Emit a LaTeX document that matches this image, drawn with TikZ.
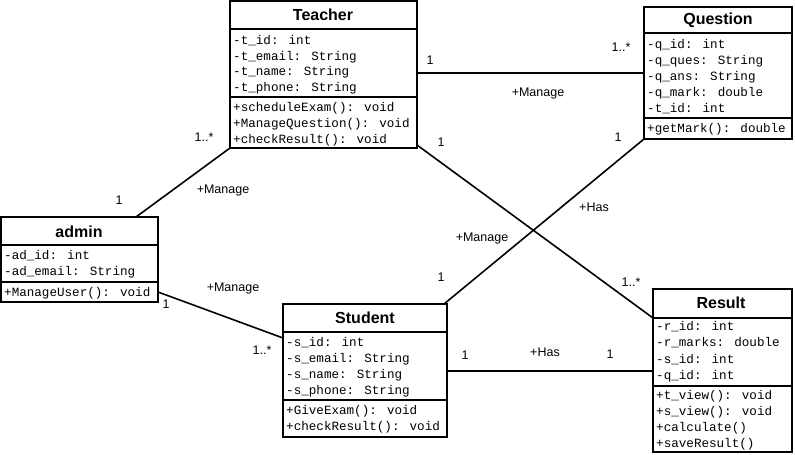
\documentclass[tikz,border=0pt]{standalone}
\usepackage{fontspec}
\setmainfont{Liberation Sans}
\newfontfamily\monof{Liberation Mono}
\begin{document}
\begin{tikzpicture}[x=1pt,y=-1pt,
  classbox/.style={draw,line width=1.6pt,inner sep=0pt,outer sep=0pt,anchor=north west},
  divline/.style={line width=1.6pt},
  ttl/.style={inner sep=0pt,font=\fontsize{16}{18}\selectfont\bfseries},
  mem/.style={inner sep=0pt,anchor=west,font=\monof\fontsize{12.6}{15}\selectfont},
  lbl/.style={inner sep=0pt,font=\fontsize{12.5}{15}\selectfont},
  conn/.style={line width=1.6pt}]
\useasboundingbox (0,0) rectangle (795,455);
% Teacher
\node[classbox,minimum width=187pt,minimum height=147pt] (teacher) at (230,1) {};
\draw[divline] (230,29) -- (417,29);
\draw[divline] (230,97) -- (417,97);
\node[ttl] (tT) at (323,15) {Teacher};
\node[mem] (t1) at (233,41) {-t\_id: int};
\node[mem] (t2) at (233,57) {-t\_email: String};
\node[mem] (t3) at (233,72) {-t\_name: String};
\node[mem] (t4) at (233,88) {-t\_phone: String};
\node[mem] (t5) at (233,108) {+scheduleExam(): void};
\node[mem] (t6) at (233,124) {+ManageQuestion(): void};
\node[mem] (t7) at (233,140) {+checkResult(): void};
% Question
\node[classbox,minimum width=148pt,minimum height=132pt] (question) at (644,7) {};
\draw[divline] (644,33) -- (792,33);
\draw[divline] (644,118) -- (792,118);
\node[ttl] (qT) at (718,20) {Question};
\node[mem] (q1) at (647,45) {-q\_id: int};
\node[mem] (q2) at (647,61) {-q\_ques: String};
\node[mem] (q3) at (647,77) {-q\_ans: String};
\node[mem] (q4) at (647,93) {-q\_mark: double};
\node[mem] (q5) at (647,109) {-t\_id: int};
\node[mem] (q6) at (647,129) {+getMark(): double};
% admin
\node[classbox,minimum width=157pt,minimum height=85pt] (admin) at (1,217) {};
\draw[divline] (1,245) -- (158,245);
\draw[divline] (1,282) -- (158,282);
\node[ttl] (aT) at (79,232) {admin};
\node[mem] (a1) at (4,256) {-ad\_id: int};
\node[mem] (a2) at (4,272) {-ad\_email: String};
\node[mem] (a3) at (4,293) {+ManageUser(): void};
% Student
\node[classbox,minimum width=164pt,minimum height=133pt] (student) at (283,304) {};
\draw[divline] (283,332) -- (447,332);
\draw[divline] (283,400) -- (447,400);
\node[ttl] (sT) at (365,318) {Student};
\node[mem] (s1) at (286,343) {-s\_id: int};
\node[mem] (s2) at (286,359) {-s\_email: String};
\node[mem] (s3) at (286,375) {-s\_name: String};
\node[mem] (s4) at (286,391) {-s\_phone: String};
\node[mem] (s5) at (286,411) {+GiveExam(): void};
\node[mem] (s6) at (286,427) {+checkResult(): void};
% Result
\node[classbox,minimum width=139pt,minimum height=163pt] (result) at (653,289) {};
\draw[divline] (653,318) -- (792,318);
\draw[divline] (653,386) -- (792,386);
\node[ttl] (rT) at (721,303) {Result};
\node[mem] (r1) at (656,327) {-r\_id: int};
\node[mem] (r2) at (656,343) {-r\_marks: double};
\node[mem] (r3) at (656,360) {-s\_id: int};
\node[mem] (r4) at (656,376) {-q\_id: int};
\node[mem] (r5) at (656,396) {+t\_view(): void};
\node[mem] (r6) at (656,412) {+s\_view(): void};
\node[mem] (r7) at (656,428) {+calculate()};
\node[mem] (r8) at (656,444) {+saveResult()};
% connectors
\draw[conn] ([yshift=-72pt]teacher.north east) -- ([yshift=-72pt]teacher.north east -| question.west);
\draw[conn] ([xshift=135pt]admin.north west) -- (teacher.south west);
\draw[conn] ([yshift=3pt]teacher.south east) -- ([yshift=-29pt]result.north west);
\draw[conn] (question.south west) -- ([xshift=-3pt]student.north east);
\draw[conn] ([yshift=10pt]admin.south east) -- ([yshift=-34pt]student.north west);
\draw[conn] ([yshift=-67pt]student.north east) -- ([yshift=-67pt]student.north east -| result.west);
% labels
\node[lbl] (l1) at (430,60) {1};
\node[lbl] (l2) at (621,47) {1..*};
\node[lbl] (l3) at (538,93) {+Manage};
\node[lbl] (l4) at (204,137) {1..*};
\node[lbl] (l5) at (119,200) {1};
\node[lbl] (l6) at (223,190) {+Manage};
\node[lbl] (l7) at (441,142) {1};
\node[lbl] (l8) at (631,282) {1..*};
\node[lbl] (l9) at (594,207) {+Has};
\node[lbl] (l10) at (618,137) {1};
\node[lbl] (l11) at (441,277) {1};
\node[lbl] (l12) at (482,238) {+Manage};
\node[lbl] (l13) at (166,304) {1};
\node[lbl] (l14) at (262,350) {1..*};
\node[lbl] (l15) at (233,288) {+Manage};
\node[lbl] (l16) at (465,355) {1};
\node[lbl] (l17) at (610,354) {1};
\node[lbl] (l18) at (545,352) {+Has};
\end{tikzpicture}
\end{document}
